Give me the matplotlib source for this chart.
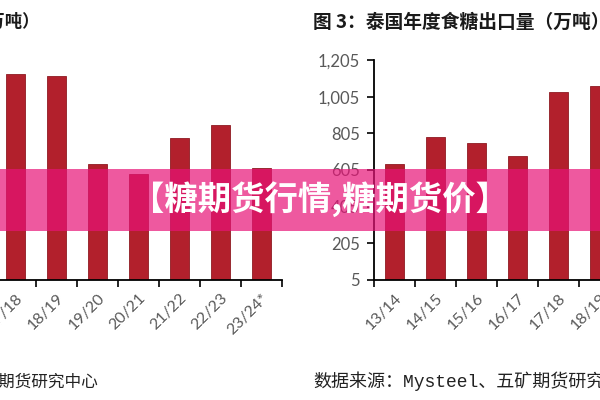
import matplotlib
matplotlib.use("Agg")
import matplotlib.pyplot as plt
from matplotlib.patches import Rectangle
from matplotlib.ticker import FuncFormatter, FixedLocator

plt.rcParams['font.family'] = ['Noto Sans CJK SC', 'DejaVu Sans']

# left panel: Thai sugar production (only part visible)
prod_seasons = ['17/18', '18/19', '19/20', '20/21', '21/22', '22/23', '23/24*']
prod_values = [1470, 1458, 829, 757, 1016, 1107, 800]

# right panel: Thai sugar exports
exp_seasons = ['13/14', '14/15', '15/16', '16/17', '17/18', '18/19']
exp_values = [636, 783, 752, 683, 1032, 1063]
exp_yticks = [5, 205, 405, 605, 805, 1005, 1205]

bar_color = '#B2202C'
tick_grey = '#595959'
W, H = 600, 400


def style_axis(ax, labels):
    n = len(labels)
    ax.set_xlim(-0.5, n - 0.5)
    ax.set_xticks(range(n))
    ax.set_xticklabels(labels, rotation=45, ha='right', va='top',
                       rotation_mode='anchor', color=tick_grey,
                       fontsize=11.5, family=['Lato', 'DejaVu Sans'])
    ax.tick_params(axis='x', length=0, pad=8)
    ax.xaxis.set_minor_locator(FixedLocator([i + 0.5 for i in range(-1, n)]))
    ax.tick_params(axis='x', which='minor', length=5, width=1.2, color='black')
    for s in ['top', 'right']:
        ax.spines[s].set_visible(False)
    ax.spines['bottom'].set_linewidth(1.3)
    ax.spines['left'].set_linewidth(1.3)


def draw_bars(ax, labels, values):
    ax.bar(range(len(labels)), values, width=0.46, color=bar_color,
           edgecolor='#8E1A22', linewidth=0.6, zorder=2)


fig = plt.figure(figsize=(6, 4), dpi=100)

# left chart, axes extends past the left edge of the canvas
axl = fig.add_axes([-5 / W, 0.3, 287 / W, 0.55])
draw_bars(axl, prod_seasons, prod_values)
style_axis(axl, prod_seasons)
axl.set_ylim(0, 1570)
axl.set_yticks([])

# right chart, extends past the right edge
axr = fig.add_axes([374 / W, 0.3, 246 / W, 0.55])
draw_bars(axr, exp_seasons, exp_values)
style_axis(axr, exp_seasons)
axr.set_ylim(5, 1205)
axr.set_yticks(exp_yticks)
axr.yaxis.set_major_formatter(FuncFormatter(lambda v, p: f'{int(v):,}'))
axr.tick_params(axis='y', length=5, width=1.2, colors='black', labelcolor=tick_grey,
                labelsize=12, pad=5)
for t in axr.get_yticklabels():
    t.set_family(['Lato', 'DejaVu Sans'])

# titles
fig.text(40 / W, 1 - 22 / H, '图 2：泰国年度食糖产量（万吨）', ha='right', va='center',
         fontsize=12.5, fontweight='bold', color='#1a1a1a')
fig.text(313 / W, 1 - 22 / H, '图 3：泰国年度食糖出口量（万吨）', ha='left', va='center',
         fontsize=13.5, fontweight='bold', color='#1a1a1a')

# source notes
src = '数据来源：Mysteel、五矿期货研究中心'
src_font = ['Liberation Mono', 'Noto Sans CJK SC']
fig.text(98 / W, 1 - 381 / H, src, ha='right', va='center',
         fontsize=12, color='#222222', family=src_font)
fig.text(313 / W, 1 - 381 / H, src, ha='left', va='center',
         fontsize=13, color='#222222', family=src_font)

# pink banner overlay
fig.patches.append(Rectangle((0, 1 - 231 / H), 1, 62 / H, transform=fig.transFigure,
                             facecolor='#E71377', alpha=0.7, edgecolor='none', zorder=5))
fig.text(320 / W, 1 - 199 / H, '【糖期货行情,糖期货价】', ha='center', va='center',
         fontsize=24, fontweight='bold', color='white', zorder=6)

fig.savefig('out.png', dpi=100)
